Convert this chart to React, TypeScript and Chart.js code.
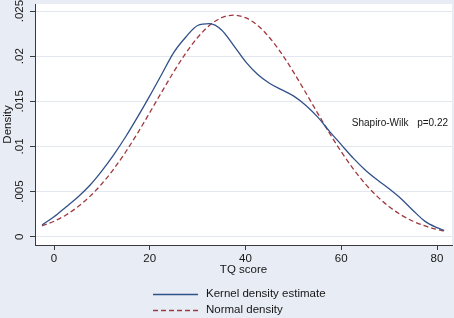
import React, { useEffect, useRef } from 'react';
import { Chart, registerables } from 'chart.js';

Chart.register(...registerables);

// ---- data ----
const tqScores = [
  -2.5, 0, 2.5, 5, 7.5, 10, 12.5, 15, 17.5, 20, 22.5, 25, 27.5, 30, 32.5, 35, 37.5,
  40, 42.5, 45, 47.5, 50, 52.5, 55, 57.5, 60, 62.5, 65, 67.5, 70, 72.5, 75, 77.5, 80, 81.5,
];
const kernelDensity = [
  0.0013, 0.0022, 0.0033, 0.0044, 0.0057, 0.0073, 0.0091, 0.0111, 0.0133, 0.0156, 0.018,
  0.0204, 0.0221, 0.0234, 0.0236, 0.0229, 0.0212, 0.0194, 0.018, 0.017, 0.0163, 0.0156,
  0.0146, 0.0133, 0.0117, 0.0102, 0.0087, 0.0074, 0.0063, 0.0053, 0.0042, 0.0029, 0.0017,
  0.001, 0.0007,
];
const normalDensity = [
  0.00119, 0.00171, 0.00241, 0.00332, 0.00447, 0.00586, 0.00752, 0.00941, 0.01151, 0.01375,
  0.01603, 0.01826, 0.02032, 0.02207, 0.02342, 0.02426, 0.02455, 0.02426, 0.02342, 0.02207,
  0.02032, 0.01826, 0.01603, 0.01375, 0.01151, 0.00941, 0.00752, 0.00586, 0.00447, 0.00332,
  0.00241, 0.00171, 0.00119, 0.0008, 0.00063,
];
const xTicks = [0, 20, 40, 60, 80];
const xTickLabels = ['0', '20', '40', '60', '80'];
const yTicks = [0, 0.005, 0.01, 0.015, 0.02, 0.025];
const yTickLabels = ['0', '.005', '.01', '.015', '.02', '.025'];
const seriesNames = ['Kernel density estimate', 'Normal density'];
const xTitle = 'TQ score';
const yTitle = 'Density';
const testName = 'Shapiro-Wilk';
const testP = 'p=0.22';

// ---- style ----
const W = 454;
const H = 318;
const BG = '#e8ecf4';
const GRID = '#e3e7f0';
const AXIS = '#3a3a3a';
const TEXT = '#161616';
const NAVY = '#30508a';
const MAROON = '#a0383f';
const FONT = '"Liberation Sans", Arial, Helvetica, sans-serif';

export default function App() {
  const ref = useRef<HTMLCanvasElement>(null);

  useEffect(() => {
    document.body.style.margin = '0';
    const canvas = ref.current!;
    const ctx = canvas.getContext('2d')!;

    const bgPlugin = {
      id: 'bgPlugin',
      beforeDraw(chart: any) {
        const c = chart.ctx;
        const a = chart.chartArea;
        c.save();
        c.fillStyle = BG;
        c.fillRect(0, 0, chart.width, chart.height);
        c.fillStyle = '#ffffff';
        c.fillRect(a.left, a.top, a.right - a.left, a.bottom - a.top);
        c.restore();
      },
    };

    const textPlugin = {
      id: 'textPlugin',
      afterDraw(chart: any) {
        const c = chart.ctx;
        const xs = chart.scales.x;
        const ys = chart.scales.y;
        c.save();
        c.fillStyle = TEXT;
        c.font = `11.5px ${FONT}`;
        // y tick labels (rotated)
        yTicks.forEach((v, i) => {
          const py = ys.getPixelForValue(v);
          c.save();
          c.translate(20, py);
          c.rotate(-Math.PI / 2);
          c.textAlign = 'center';
          c.textBaseline = 'middle';
          c.fillText(yTickLabels[i], 0, 0);
          c.restore();
        });
        // y title
        c.save();
        c.translate(7.5, (chart.chartArea.top + chart.chartArea.bottom) / 2);
        c.rotate(-Math.PI / 2);
        c.textAlign = 'center';
        c.textBaseline = 'middle';
        c.fillText(yTitle, 0, 0);
        c.restore();
        // x tick labels
        c.textAlign = 'center';
        c.textBaseline = 'middle';
        xTicks.forEach((v, i) => {
          c.fillText(xTickLabels[i], xs.getPixelForValue(v), 259);
        });
        // x title
        c.fillText(xTitle, (chart.chartArea.left + chart.chartArea.right) / 2, 270);
        // legend
        const items = [
          { name: seriesNames[0], color: NAVY, dash: [] as number[], y: 294.5 },
          { name: seriesNames[1], color: MAROON, dash: [5, 3], y: 310.5 },
        ];
        items.forEach((it) => {
          c.save();
          c.strokeStyle = it.color;
          c.lineWidth = 1.3;
          c.setLineDash(it.dash);
          c.beginPath();
          c.moveTo(153, it.y);
          c.lineTo(198, it.y);
          c.stroke();
          c.restore();
          c.textAlign = 'left';
          c.textBaseline = 'middle';
          c.fillText(it.name, 206, it.y - 1);
        });
        // annotation
        c.font = `10px ${FONT}`;
        c.textAlign = 'left';
        c.fillText(testName, xs.getPixelForValue(62.2), ys.getPixelForValue(0.0126));
        c.textAlign = 'right';
        c.fillText(testP, xs.getPixelForValue(82.3), ys.getPixelForValue(0.0126));
        c.restore();
      },
    };

    const chart = new Chart(ctx, {
      type: 'line',
      data: {
        datasets: [
          {
            label: seriesNames[0],
            data: tqScores.map((x, i) => ({ x, y: kernelDensity[i] })),
            borderColor: NAVY,
            borderWidth: 1.3,
            pointRadius: 0,
            fill: false,
            cubicInterpolationMode: 'monotone',
          },
          {
            label: seriesNames[1],
            data: tqScores.map((x, i) => ({ x, y: normalDensity[i] })),
            borderColor: MAROON,
            borderWidth: 1.3,
            borderDash: [5, 3],
            pointRadius: 0,
            fill: false,
            cubicInterpolationMode: 'monotone',
          },
        ],
      },
      options: {
        responsive: false,
        animation: false,
        devicePixelRatio: 1,
        layout: { padding: { top: 4, right: 2, left: 0, bottom: 0 } },
        plugins: {
          legend: { display: false },
          tooltip: { enabled: false },
        },
        scales: {
          x: {
            type: 'linear',
            min: -3.97,
            max: 83.13,
            afterFit: (s: any) => {
              s.height = 73;
            },
            afterBuildTicks: (s: any) => {
              s.ticks = xTicks.map((v) => ({ value: v }));
            },
            ticks: { display: false },
            grid: {
              drawOnChartArea: false,
              drawTicks: true,
              tickLength: 5,
              tickColor: AXIS,
              tickWidth: 1,
            },
            border: { display: true, color: AXIS, width: 1 },
          },
          y: {
            type: 'linear',
            min: -0.00092,
            max: 0.02578,
            afterFit: (s: any) => {
              s.width = 35;
            },
            afterBuildTicks: (s: any) => {
              s.ticks = yTicks.map((v) => ({ value: v }));
            },
            ticks: { display: false },
            grid: {
              color: GRID,
              lineWidth: 1,
              drawTicks: true,
              tickLength: 5,
              tickColor: AXIS,
              tickWidth: 1,
            },
            border: { display: true, color: AXIS, width: 1 },
          },
        },
      },
      plugins: [bgPlugin, textPlugin],
    } as any);

    return () => chart.destroy();
  }, []);

  return (
    <div style={{ position: 'absolute', left: 0, top: 0, width: W, height: H }}>
      <canvas ref={ref} width={W} height={H} style={{ display: 'block', width: W, height: H }} />
    </div>
  );
}
